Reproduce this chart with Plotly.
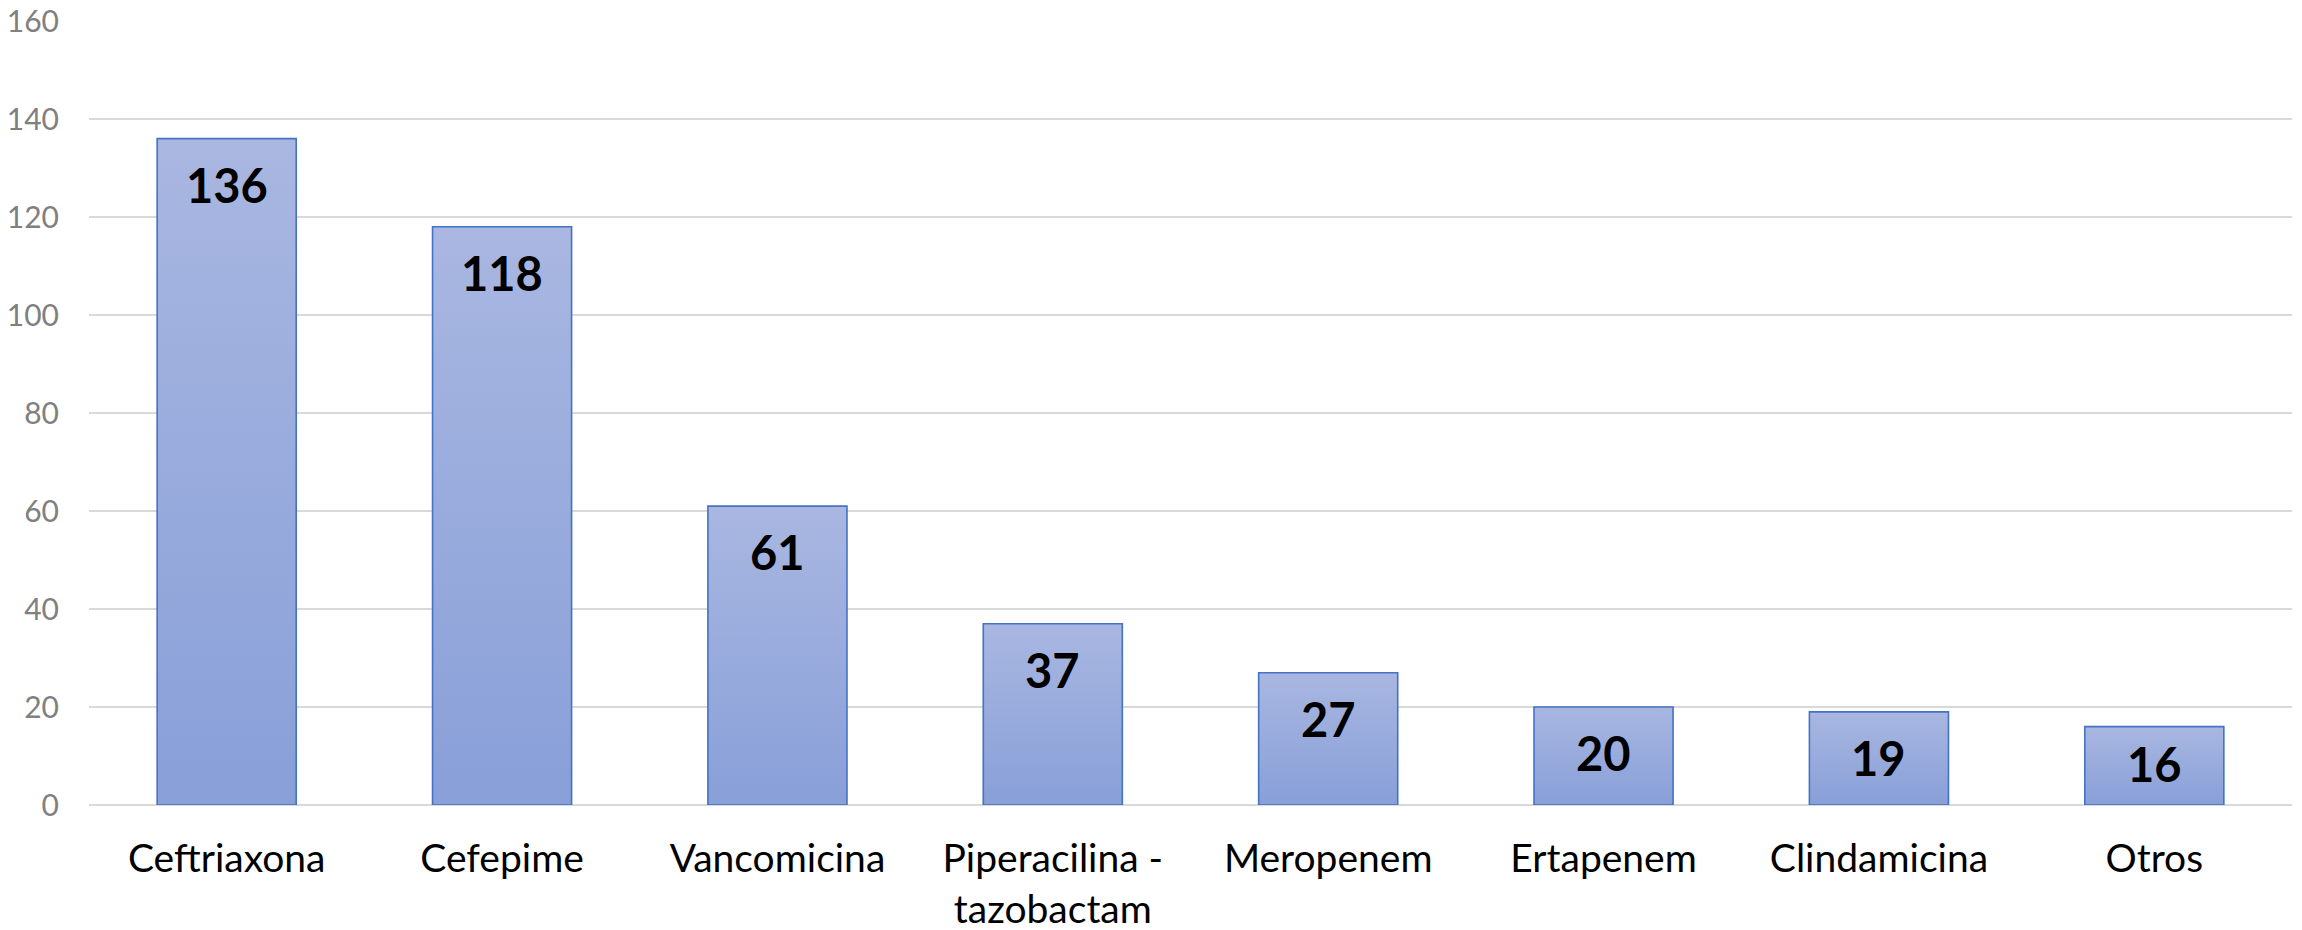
import plotly.graph_objects as go

# Antibiotic usage counts
categories = ["Ceftriaxona", "Cefepime", "Vancomicina", "Piperacilina -<br>tazobactam",
              "Meropenem", "Ertapenem", "Clindamicina", "Otros"]
values = [136, 118, 61, 37, 27, 20, 19, 16]
y_ticks = [0, 20, 40, 60, 80, 100, 120, 140, 160]

FONT = "Lato"
W, H = 2302, 930
M_L, M_R, M_T, M_B = 89, 10, 21, 125
Y_MAX = 160
px_per_unit = (H - M_T - M_B) / Y_MAX
LABEL_SIZE = 47
LABEL_ROOM = 85  # px a label needs to sit at the inside end of a bar

fig = go.Figure()
fig.add_trace(go.Bar(
    x=categories,
    y=values,
    marker=dict(color="#98AADB", line=dict(color="#4472C4", width=1.6)),
    hoverinfo="x+y",
))

# Value labels: inside end of each bar, centred when the bar is too short
for c, v in zip(categories, values):
    if v * px_per_unit >= LABEL_ROOM:
        fig.add_annotation(x=c, y=v, yanchor="top", yshift=-16, text=str(v),
                           showarrow=False,
                           font=dict(family=FONT, size=LABEL_SIZE, color="black", weight="bold"))
    else:
        fig.add_annotation(x=c, y=v / 2, yanchor="middle", yshift=2, text=str(v),
                           showarrow=False,
                           font=dict(family=FONT, size=LABEL_SIZE, color="black", weight="bold"))

fig.update_layout(
    width=W, height=H, autosize=False,
    margin=dict(l=M_L, r=M_R, t=M_T, b=M_B, autoexpand=False),
    paper_bgcolor="white", plot_bgcolor="white",
    bargap=0.495,
    showlegend=False,
    font=dict(family=FONT),
)
fig.update_xaxes(
    showgrid=False, showline=False, zeroline=False, automargin=False,
    tickfont=dict(family=FONT, size=39, color="black"),
    ticklabelstandoff=27,
)
fig.update_yaxes(
    range=[0, Y_MAX], tickvals=y_ticks, automargin=False,
    showgrid=True, gridcolor="#D9D9D9", gridwidth=1.6,
    zeroline=True, zerolinecolor="#D9D9D9", zerolinewidth=1.6,
    showline=False,
    tickfont=dict(family=FONT, size=30, color="#808080"),
    ticklabelstandoff=29,
)

# Vertical light-to-dark fill on every bar
post_js = """
var gd = document.getElementById('{plot_id}');
function shadeBars() {
  var svg = gd.querySelector('svg.main-svg');
  if (!svg) return;
  var ns = 'http://www.w3.org/2000/svg';
  var defs = svg.querySelector('defs');
  if (!defs) { defs = document.createElementNS(ns, 'defs'); svg.insertBefore(defs, svg.firstChild); }
  if (!document.getElementById('barShade')) {
    var lg = document.createElementNS(ns, 'linearGradient');
    lg.setAttribute('id', 'barShade');
    lg.setAttribute('x1', '0'); lg.setAttribute('y1', '0');
    lg.setAttribute('x2', '0'); lg.setAttribute('y2', '1');
    [['0', '#A9B7E1'], ['1', '#889FD8']].forEach(function (s) {
      var st = document.createElementNS(ns, 'stop');
      st.setAttribute('offset', s[0]);
      st.setAttribute('stop-color', s[1]);
      lg.appendChild(st);
    });
    defs.appendChild(lg);
  }
  gd.querySelectorAll('.barlayer .point path').forEach(function (p) {
    p.style.fill = 'url(#barShade)';
  });
}
shadeBars();
gd.on('plotly_afterplot', shadeBars);
"""

fig.write_html("out.html", post_script=post_js)
